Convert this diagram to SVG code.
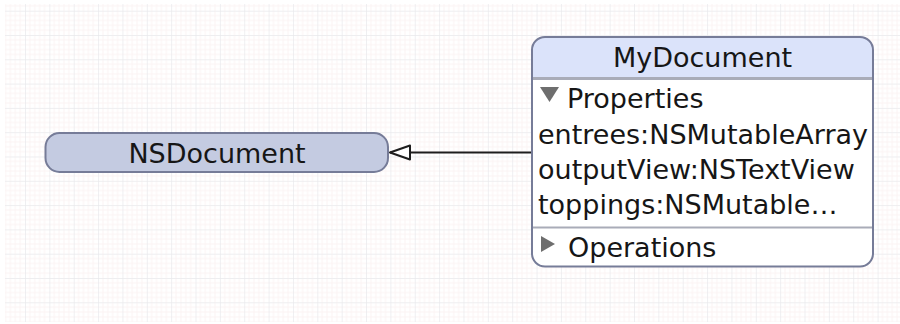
<svg xmlns="http://www.w3.org/2000/svg" width="900" height="324" viewBox="0 0 900 324">
  <defs>
    <!-- faint graph-paper background -->
    <pattern id="grid" patternUnits="userSpaceOnUse" x="25" y="10.7" width="24.36" height="24.3">
      <path d="M4.87 0V24.3M9.74 0V24.3M14.61 0V24.3M19.48 0V24.3M0 4.86H24.36M0 9.72H24.36M0 14.58H24.36M0 19.44H24.36" stroke="#fcf3f4" stroke-width="1" fill="none"/>
      <path d="M0 0V24.3M0 0H24.36" stroke="#e9e9ec" stroke-width="1.4" fill="none"/>
    </pattern>
    <!-- hollow generalization arrowhead, drawn pointing along +x -->
    <marker id="inherit" markerUnits="userSpaceOnUse" markerWidth="24" markerHeight="18" refX="22" refY="8" orient="auto" viewBox="0 0 24 16">
      <path d="M22 8 L2 1 L2 15 Z" fill="#ffffff" stroke="#1e1e1e" stroke-width="2" stroke-linejoin="round"/>
    </marker>
    <style>
      .lbl { font-family: "DejaVu Sans", "Liberation Sans", sans-serif; font-size: 27px; fill: #161616; }
      .title { text-anchor: middle; }
      .frame { stroke: #767c98; stroke-width: 2; }
      .sep { stroke: #a9acb8; stroke-width: 3; }
      .tri { fill: #6e6e6e; }
    </style>
  </defs>

  <rect width="900" height="324" fill="#ffffff"/>
  <rect x="5" y="4" width="895" height="318" fill="url(#grid)"/>

  <g id="connectors">
    <line x1="532" y1="152.5" x2="390" y2="152.5" stroke="#1e1e1e" stroke-width="2" marker-end="url(#inherit)"/>
  </g>

  <g id="NSDocument">
    <rect class="frame" x="45.5" y="133" width="342.5" height="39" rx="14" ry="14" fill="#c4cbe1"/>
    <text class="lbl title" x="217" y="163">NSDocument</text>
  </g>

  <g id="MyDocument">
    <rect x="532" y="37" width="341" height="229.5" rx="13" ry="13" fill="#ffffff"/>
    <path d="M532 78 V50 A13 13 0 0 1 545 37 H860 A13 13 0 0 1 873 50 V78 Z" fill="#dbe3fa"/>
    <line class="sep" x1="532" y1="78.5" x2="873" y2="78.5"/>
    <line class="sep" x1="532" y1="227.5" x2="873" y2="227.5" style="stroke-width:2"/>
    <rect class="frame" x="532" y="37" width="341" height="229.5" rx="13" ry="13" fill="none"/>
    <text class="lbl title" x="702.5" y="66.5">MyDocument</text>
    <polygon class="tri" points="540,87 559,87 549.5,102"/>
    <text class="lbl" x="567" y="108">Properties</text>
    <text class="lbl" x="538" y="144">entrees:NSMutableArray</text>
    <text class="lbl" x="538" y="179">outputView:NSTextView</text>
    <text class="lbl" x="538" y="214">toppings:NSMutable…</text>
    <polygon class="tri" points="541,236 555,244 541,252"/>
    <text class="lbl" x="568" y="257">Operations</text>
  </g>
</svg>
